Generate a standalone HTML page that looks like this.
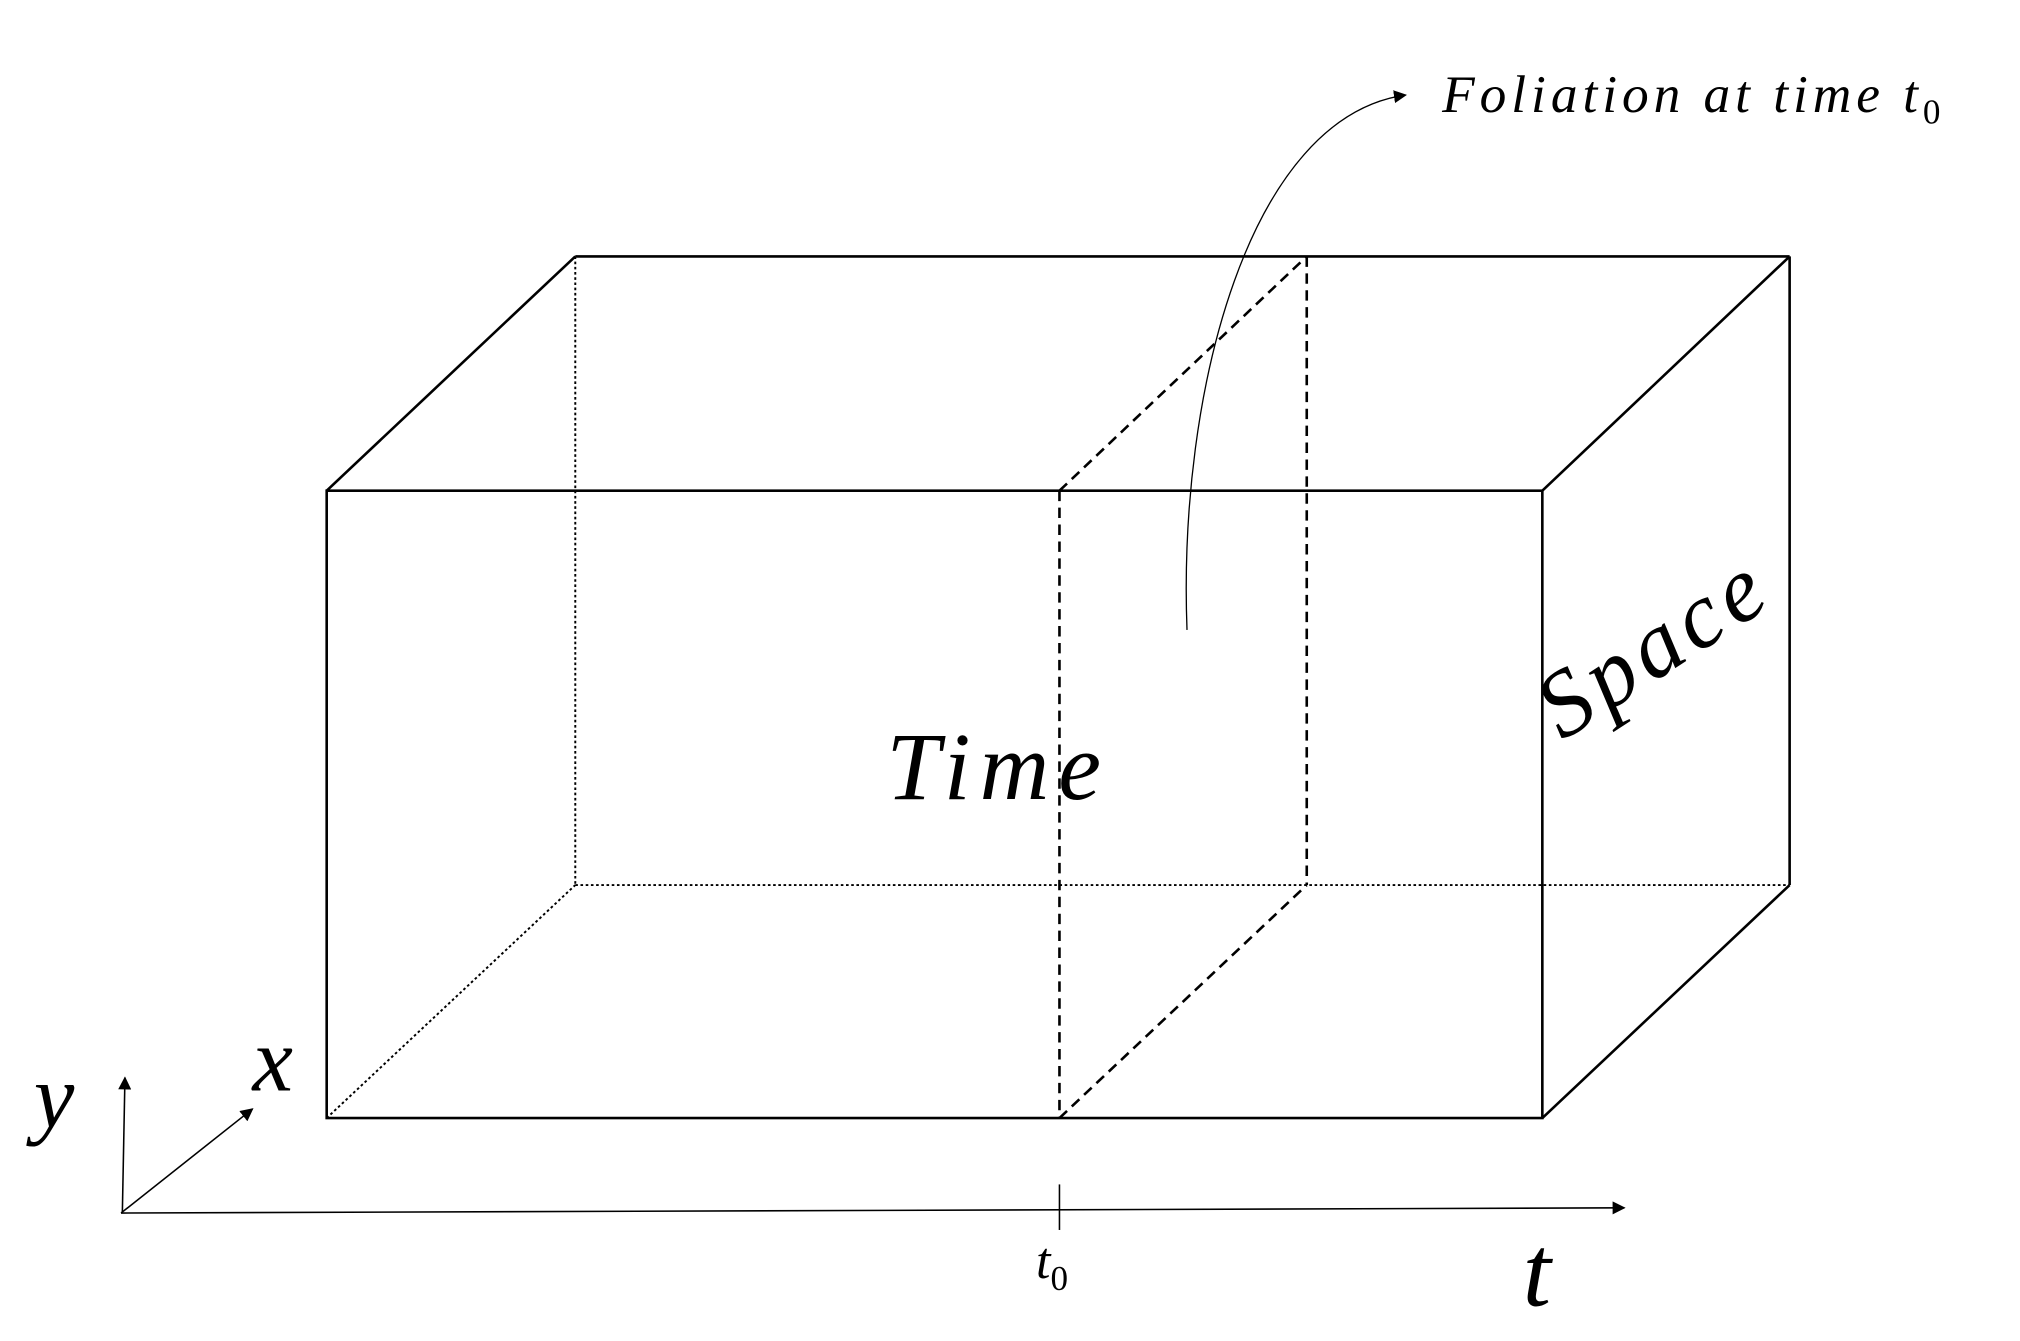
<!DOCTYPE html>
<html><head><style>html,body{margin:0;padding:0;background:#fff;}svg{display:block}</style></head>
<body>
<svg width="2020" height="1341" viewBox="0 0 1552 1030.3" xmlns="http://www.w3.org/2000/svg">
<defs>
<marker id="ah" markerWidth="10" markerHeight="10" refX="9" refY="5" orient="auto" markerUnits="userSpaceOnUse"><path d="M0,0 L10,5 L0,10 z" fill="#000"/></marker>
</defs>
<g fill="none" stroke="#000">
<rect x="251" y="377" width="934" height="482" stroke-width="2"/>
<line x1="251" y1="377" x2="442" y2="197" stroke-width="2"/>
<line x1="442" y1="197" x2="1375" y2="197" stroke-width="2"/>
<line x1="1185" y1="377" x2="1375" y2="197" stroke-width="2"/>
<line x1="1375" y1="197" x2="1375" y2="680" stroke-width="2"/>
<line x1="1185" y1="859" x2="1375" y2="680" stroke-width="2"/>
<g stroke-width="1.5" stroke-dasharray="2,2">
<line x1="442" y1="197" x2="442" y2="680"/>
<line x1="442" y1="680" x2="1375" y2="680"/>
<line x1="251" y1="859" x2="442" y2="680"/>
</g>
<g stroke-width="2" stroke-dasharray="8,5">
<line x1="814" y1="377" x2="814" y2="859"/>
<line x1="814" y1="377" x2="1004" y2="197"/>
<line x1="1004" y1="197" x2="1004" y2="680"/>
<line x1="814" y1="859" x2="1004" y2="680"/>
</g>
<path d="M912,484 C905,300 960,90 1080,73" stroke-width="1" marker-end="url(#ah)"/>
<line x1="93" y1="932" x2="1248" y2="928" stroke-width="1.2" marker-end="url(#ah)"/>
<line x1="94" y1="932" x2="96" y2="828" stroke-width="1.2" marker-end="url(#ah)"/>
<line x1="93" y1="932" x2="194" y2="852" stroke-width="1.2" marker-end="url(#ah)"/>
<line x1="814" y1="910" x2="814" y2="945" stroke-width="1.2"/>
</g>
<g font-family="Liberation Serif, serif" font-style="italic" fill="#000">
<text x="1108" y="86" font-size="41" letter-spacing="3.8">Foliation at time <tspan>t</tspan><tspan font-size="27" font-style="normal" dy="9" letter-spacing="0">0</tspan></text>
<text x="767" y="614" font-size="74" text-anchor="middle" letter-spacing="7">Time</text>
<text x="1283" y="516" font-size="72" text-anchor="middle" letter-spacing="5" transform="rotate(-33 1283 516)">Space</text>
<text x="796" y="982" font-size="40">t<tspan font-size="27" font-style="normal" dy="9">0</tspan></text>
<text x="1170" y="1003" font-size="78">t</text>
<text x="26" y="866" font-size="70">y</text>
<text x="194" y="838" font-size="70">x</text>
</g>
</svg>
</body></html>
